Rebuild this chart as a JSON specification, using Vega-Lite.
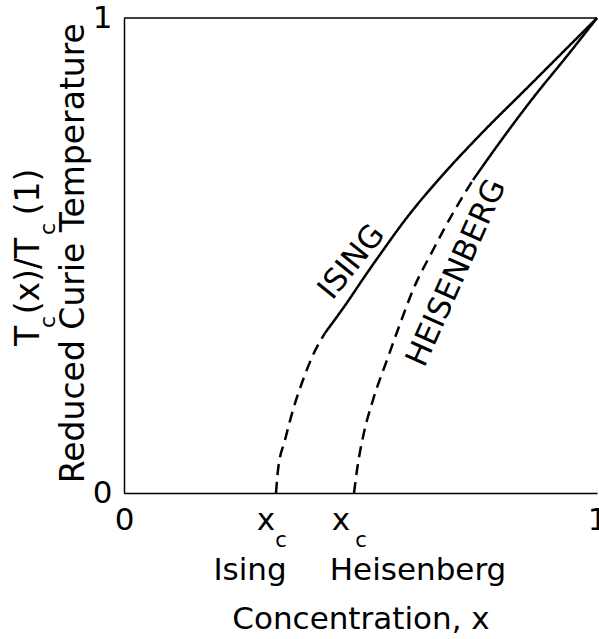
{
  "$schema": "https://vega.github.io/schema/vega-lite/v6.json",
  "width": 473,
  "height": 475,
  "autosize": {"type": "none"},
  "padding": {"left": 124, "top": 18, "right": 2, "bottom": 146},
  "background": "white",
  "config": {
    "view": {"stroke": null},
    "font": "DejaVu Sans",
    "axis": {
      "grid": false,
      "ticks": false,
      "domainColor": "black",
      "domainWidth": 1.5,
      "labelColor": "black",
      "labelFont": "DejaVu Sans",
      "labelFontSize": 31
    },
    "text": {"font": "DejaVu Sans", "color": "black"}
  },
  "encoding": {
    "x": {
      "field": "x",
      "type": "quantitative",
      "scale": {"domain": [0, 1], "nice": false, "zero": false},
      "axis": {"values": [0, 1], "title": null, "format": "d", "labelPadding": 12, "labelFlush": false, "labelOverlap": false}
    },
    "y": {
      "field": "y",
      "type": "quantitative",
      "scale": {"domain": [0, 1], "nice": false},
      "axis": {"values": [0, 1], "title": null, "format": "d", "labelPadding": 12, "labelFlush": false, "labelOverlap": false}
    }
  },
  "layer": [
    {
      "data": {
        "values": [
          {"model": "Ising", "style": "dashed", "x": 0.3214, "y": 0},
          {"model": "Ising", "style": "dashed", "x": 0.3256, "y": 0.0484},
          {"model": "Ising", "style": "dashed", "x": 0.3404, "y": 0.1116},
          {"model": "Ising", "style": "dashed", "x": 0.3573, "y": 0.1747},
          {"model": "Ising", "style": "dashed", "x": 0.3784, "y": 0.2379},
          {"model": "Ising", "style": "dashed", "x": 0.3996, "y": 0.2905},
          {"model": "Ising", "style": "dashed", "x": 0.4249, "y": 0.3368},
          {"model": "Ising", "style": "solid", "x": 0.4249, "y": 0.3368},
          {"model": "Ising", "style": "solid", "x": 0.4672, "y": 0.3947},
          {"model": "Ising", "style": "solid", "x": 0.5095, "y": 0.4568},
          {"model": "Ising", "style": "solid", "x": 0.5518, "y": 0.5168},
          {"model": "Ising", "style": "solid", "x": 0.5941, "y": 0.5747},
          {"model": "Ising", "style": "solid", "x": 0.6681, "y": 0.6632},
          {"model": "Ising", "style": "solid", "x": 0.7526, "y": 0.7537},
          {"model": "Ising", "style": "solid", "x": 0.8584, "y": 0.8589},
          {"model": "Ising", "style": "solid", "x": 1, "y": 1},
          {"model": "Heisenberg", "style": "dashed", "x": 0.4863, "y": 0},
          {"model": "Heisenberg", "style": "dashed", "x": 0.4926, "y": 0.0484},
          {"model": "Heisenberg", "style": "dashed", "x": 0.5053, "y": 0.1179},
          {"model": "Heisenberg", "style": "dashed", "x": 0.5264, "y": 0.1958},
          {"model": "Heisenberg", "style": "dashed", "x": 0.556, "y": 0.28},
          {"model": "Heisenberg", "style": "dashed", "x": 0.5835, "y": 0.3558},
          {"model": "Heisenberg", "style": "dashed", "x": 0.611, "y": 0.4274},
          {"model": "Heisenberg", "style": "dashed", "x": 0.6533, "y": 0.5116},
          {"model": "Heisenberg", "style": "dashed", "x": 0.6956, "y": 0.5895},
          {"model": "Heisenberg", "style": "dashed", "x": 0.7378, "y": 0.6589},
          {"model": "Heisenberg", "style": "solid", "x": 0.7378, "y": 0.6589},
          {"model": "Heisenberg", "style": "solid", "x": 0.7949, "y": 0.7389},
          {"model": "Heisenberg", "style": "solid", "x": 0.8647, "y": 0.8316},
          {"model": "Heisenberg", "style": "solid", "x": 0.9366, "y": 0.92},
          {"model": "Heisenberg", "style": "solid", "x": 1, "y": 1}
        ]
      },
      "mark": {"type": "line", "color": "black", "strokeWidth": 2.5, "interpolate": "monotone"},
      "encoding": {
        "detail": {"field": "model"},
        "strokeDash": {
          "field": "style",
          "type": "nominal",
          "scale": {"domain": ["solid", "dashed"], "range": [[1, 0], [11, 7]]},
          "legend": null
        },
        "order": {"field": "x", "type": "quantitative"}
      }
    },
    {
      "data": {"values": [{"x": 0, "y": 1}, {"x": 1, "y": 1}]},
      "mark": {"type": "line", "color": "black", "strokeWidth": 1.5},
      "encoding": {}
    },
    {
      "data": {
        "values": [
          {"t": "x", "x": 0.3, "y": -0.0583},
          {"t": "x", "x": 0.4588, "y": -0.0583},
          {"t": "Ising", "x": 0.2664, "y": -0.1636},
          {"t": "Heisenberg", "x": 0.6216, "y": -0.1636},
          {"t": "Concentration, x", "x": 0.5011, "y": -0.2667}
        ]
      },
      "mark": {"type": "text", "fontSize": 31, "align": "center", "baseline": "middle"},
      "encoding": {"text": {"field": "t"}}
    },
    {
      "data": {
        "values": [
          {"t": "c", "x": 0.332, "y": -0.1},
          {"t": "c", "x": 0.501, "y": -0.1}
        ]
      },
      "mark": {"type": "text", "fontSize": 21, "align": "center", "baseline": "middle"},
      "encoding": {"text": {"field": "t"}}
    },
    {
      "data": {
        "values": [
          {"t": "T", "x": -0.2, "y": 0.3305},
          {"t": "(x)/T", "x": -0.2, "y": 0.4568},
          {"t": "(1)", "x": -0.2, "y": 0.6337},
          {"t": "Reduced Curie Temperature", "x": -0.106, "y": 0.505}
        ]
      },
      "mark": {"type": "text", "fontSize": 33, "angle": 270, "align": "center", "baseline": "middle"},
      "encoding": {"text": {"field": "t"}}
    },
    {
      "data": {
        "values": [
          {"t": "c", "x": -0.1614, "y": 0.36},
          {"t": "c", "x": -0.1614, "y": 0.5558}
        ]
      },
      "mark": {"type": "text", "fontSize": 22, "angle": 270, "align": "center", "baseline": "middle"},
      "encoding": {"text": {"field": "t"}}
    },
    {
      "data": {"values": [{"t": "ISING", "x": 0.482, "y": 0.486}]},
      "mark": {"type": "text", "fontSize": 31, "angle": -51, "align": "center", "baseline": "middle"},
      "encoding": {"text": {"field": "t"}}
    },
    {
      "data": {"values": [{"t": "HEISENBERG", "x": 0.704, "y": 0.463}]},
      "mark": {"type": "text", "fontSize": 31, "angle": -66, "align": "center", "baseline": "middle"},
      "encoding": {"text": {"field": "t"}}
    }
  ]
}
